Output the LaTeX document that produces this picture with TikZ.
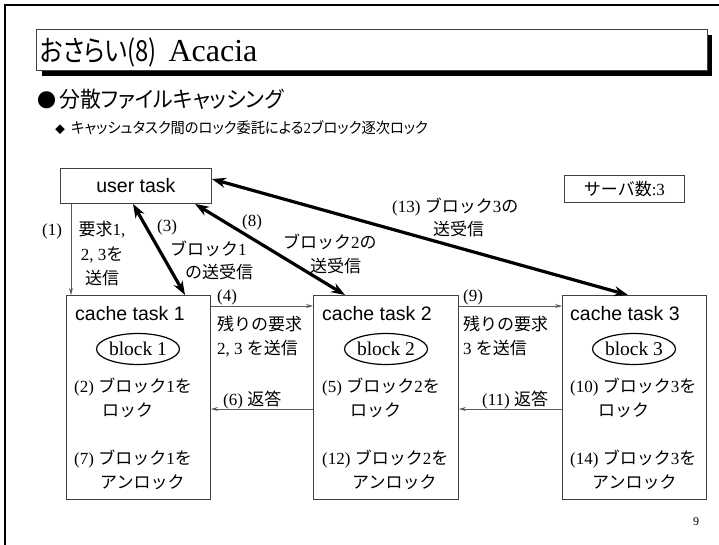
\documentclass[tikz,border=0pt]{standalone}
\usepackage{fontspec}
\setmainfont{Liberation Serif}
\setsansfont{Liberation Sans}
\newfontfamily\jpfont{Noto Sans CJK JP}
\newfontfamily\jpnarrow[RawFeature=+palt,FakeStretch=0.95]{Noto Sans CJK JP}
\newfontfamily\jptitle[RawFeature=+palt,FakeStretch=0.82]{Noto Sans CJK JP}
\def\jpsel{\jpfont}
\usetikzlibrary{arrows.meta,calc,shapes.geometric}
\XeTeXinterchartokenstate=1
\chardef\JPclass=7
\newcount\jpc
\def\setjprange#1#2{\jpc=#1\relax\loop\XeTeXcharclass\jpc=\JPclass\relax\advance\jpc by 1\relax\ifnum\jpc<#2\relax\repeat}
\setjprange{"3000}{"3100}
\setjprange{"4E00}{"A000}
\setjprange{"FF00}{"FFF0}
\XeTeXinterchartoks 0 \JPclass = {\begingroup\jpsel}
\XeTeXinterchartoks 4095 \JPclass = {\begingroup\jpsel}
\XeTeXinterchartoks \JPclass 0 = {\endgroup}
\XeTeXinterchartoks \JPclass 4095 = {\endgroup}
\begin{document}
\begin{tikzpicture}[x=1pt,y=-1pt,
  box/.style={draw=black!75, line width=0.9pt, inner sep=0pt, anchor=north west},
  lbl/.style={inner sep=0pt, anchor=base west, font=\fontsize{17}{20}\selectfont},
  clbl/.style={inner sep=0pt, anchor=base, font=\fontsize{17}{20}\selectfont},
  ctitle/.style={inner sep=0pt, anchor=base west, font=\sffamily\fontsize{19.5}{22}\selectfont},
  blk/.style={draw, ellipse, line width=1.2pt, minimum width=83pt, minimum height=31pt, inner sep=0pt, font=\fontsize{19.5}{22}\selectfont},
  thinarrow/.style={draw=black!65, line width=0.8pt, -{Stealth[length=7pt,width=4pt]}},
  thickarrow/.style={line width=3.2pt, {Stealth[length=14pt,width=10pt]}-{Stealth[length=14pt,width=10pt]}}
  ]
\useasboundingbox (0,0) rectangle (719,545);
\fill[white] (0,0) rectangle (719,545);
\draw[line width=2.4pt] (5,545) -- (5,5) -- (719,5);
% title
\fill (42,35) rectangle (712,76);
\node[box, fill=white, minimum width=671pt, minimum height=41pt] (titlebox) at (36,29) {};
\node[anchor=base west, inner sep=0pt, font=\fontsize{32}{36}\selectfont] (title) at (40,62) {{\fontsize{29}{32}\selectfont\jptitle\def\jpsel{\jptitle}おさらい(8)}\hspace{12pt}Acacia};
% bullets
\node[anchor=base west, inner sep=0pt, font=\fontsize{22}{26}\selectfont] (bul1) at (37,108) {{\jpfont\fontsize{19}{20}\selectfont ●}\hspace{3pt}{\def\jpsel{\jpnarrow}分散ファイルキャッシング}};
\node[anchor=base west, inner sep=0pt, font=\fontsize{15}{18}\selectfont] (bul2) at (55,134) {{\jpfont\fontsize{10}{10}\selectfont ◆}\hspace{6pt}{\def\jpsel{\jpnarrow}キャッシュタスク間のロック委託による2ブロック逐次ロック}};
% boxes
\node[box, minimum width=151pt, minimum height=35pt, font=\sffamily\fontsize{19.5}{22}\selectfont] (user) at (60,168) {user task};
\node[box, minimum width=120pt, minimum height=27pt, font=\fontsize{17}{20}\selectfont] (srv) at (564,175) {サーバ数:3};
\node[box, minimum width=144pt, minimum height=204pt] (c1) at (66,295) {};
\node[box, minimum width=145pt, minimum height=204pt] (c2) at (313,295) {};
\node[box, minimum width=144pt, minimum height=204pt] (c3) at (562,295) {};
% cache 1
\node[ctitle] (c1t) at (75,320) {cache task 1};
\node[blk] (blk1) at (138,349) {block 1};
\node[lbl] (c1a) at (74,392) {(2) ブロック1を};
\node[lbl] (c1b) at (102,416) {ロック};
\node[lbl] (c1c) at (74,464) {(7) ブロック1を};
\node[lbl] (c1d) at (100,488) {アンロック};
% cache 2
\node[ctitle] (c2t) at (322,320) {cache task 2};
\node[blk] (blk2) at (386,349) {block 2};
\node[lbl] (c2a) at (322,392) {(5) ブロック2を};
\node[lbl] (c2b) at (350,416) {ロック};
\node[lbl] (c2c) at (322,464) {(12) ブロック2を};
\node[lbl] (c2d) at (352,488) {アンロック};
% cache 3
\node[ctitle] (c3t) at (570,320) {cache task 3};
\node[blk] (blk3) at (634,349) {block 3};
\node[lbl] (c3a) at (570,392) {(10) ブロック3を};
\node[lbl] (c3b) at (598,416) {ロック};
\node[lbl] (c3c) at (570,464) {(14) ブロック3を};
\node[lbl] (c3d) at (592,488) {アンロック};
% arrows
\draw[thinarrow] ($(user.south west)+(11,0)$) -- ($(c1.north west)+(5,0)$);
\draw[thickarrow] ($(user.south west)+(73,0)$) -- ($(c1.north west)+(119,0)$);
\draw[thickarrow] ($(user.south west)+(135,0)$) -- ($(c2.north west)+(32,0)$);
\draw[thickarrow] ($(user.north east)+(0,11)$) -- ($(c3.north west)+(66,0)$);
\draw[thinarrow] ($(c1.north east)+(0,11)$) -- ($(c2.north west)+(0,11)$);
\draw[thinarrow] ($(c2.north east)+(0,11)$) -- ($(c3.north west)+(0,11)$);
\draw[thinarrow] ($(c2.north west)+(0,114)$) -- ($(c1.north east)+(0,114)$);
\draw[thinarrow] ($(c3.north west)+(0,114)$) -- ($(c2.north east)+(0,114)$);
% arrow labels
\node[lbl] (l1) at (42,236) {(1)};
\node[clbl] (l1a) at (102,236) {要求1,};
\node[clbl] (l1b) at (102,260) {2, 3を};
\node[clbl] (l1c) at (102,284) {送信};
\node[lbl] (l3) at (157,231) {(3)};
\node[lbl] (l3a) at (170,255) {ブロック1};
\node[lbl] (l3b) at (185,278) {の送受信};
\node[lbl] (l8) at (242,226) {(8)};
\node[lbl] (l8a) at (283,248) {ブロック2の};
\node[lbl] (l8b) at (310,272) {送受信};
\node[lbl] (l13) at (392,212) {(13) ブロック3の};
\node[lbl] (l13b) at (433,235) {送受信};
\node[lbl] (l4) at (217,301) {(4)};
\node[lbl] (l4a) at (217,330) {残りの要求};
\node[lbl] (l4b) at (217,354) {2, 3 を送信};
\node[lbl] (l9) at (463,301) {(9)};
\node[lbl] (l9a) at (463,330) {残りの要求};
\node[lbl] (l9b) at (463,354) {3 を送信};
\node[lbl] (l6) at (223,405) {(6) 返答};
\node[lbl] (l11) at (482,405) {(11) 返答};
\node[anchor=base west, inner sep=0pt, font=\fontsize{12}{14}\selectfont] (pg) at (693,525) {9};
\end{tikzpicture}
\end{document}
